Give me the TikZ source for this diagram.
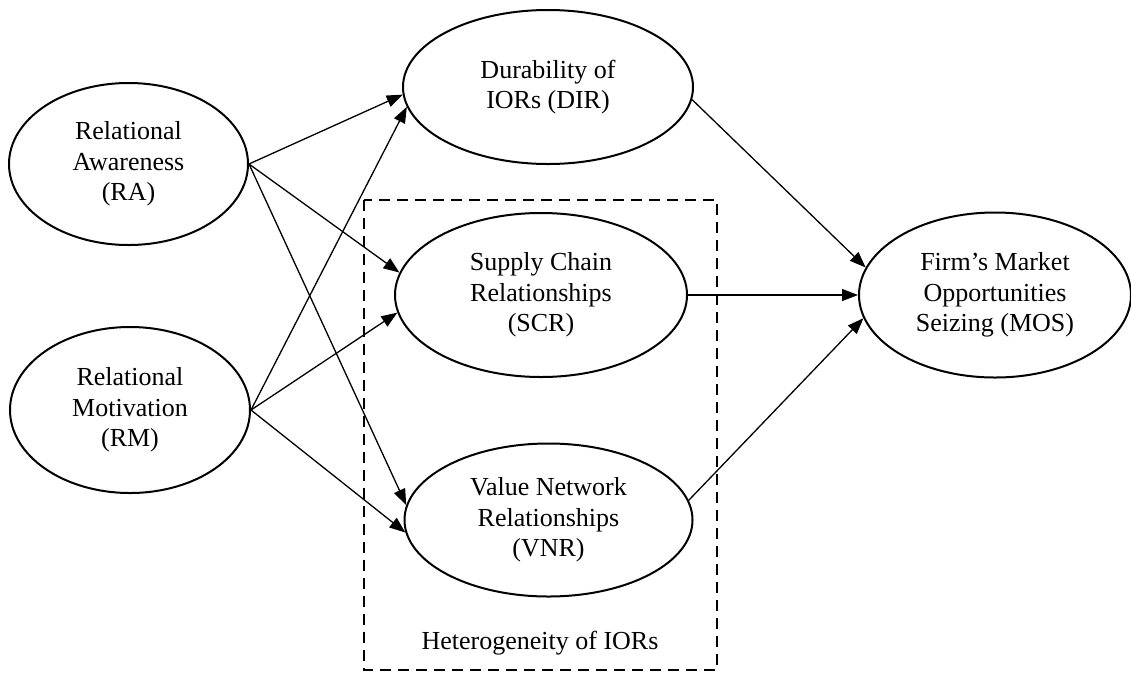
\documentclass[tikz,border=0pt]{standalone}
\usepackage{fontspec}
\setmainfont{Liberation Serif}
\usetikzlibrary{arrows.meta,shapes.geometric}
\begin{document}
\begin{tikzpicture}[x=1pt,y=-1pt,
  construct/.style={draw, ellipse, line width=2pt, inner sep=0pt, align=center,
    font=\fontsize{26}{30.5}\selectfont},
  path/.style={line width=1.3pt, -{Triangle[length=16pt,width=12pt]}},
  group/.style={draw, dashed, line width=2pt, dash pattern=on 11pt off 7pt}]
\useasboundingbox (0,0) rectangle (1131,673);

% constructs
\node[construct, minimum width=239pt, minimum height=162pt] (RA)  at (128.5,164) {Relational\\Awareness\\(RA)};
\node[construct, minimum width=240pt, minimum height=166pt] (RM)  at (130,410)   {Relational\\Motivation\\(RM)};
\node[construct, minimum width=290pt, minimum height=154pt] (DIR) at (548,87)    {Durability of\\IORs (DIR)};
\node[construct, minimum width=292pt, minimum height=164pt] (SCR) at (541,295)   {Supply Chain\\Relationships\\(SCR)};
\node[construct, minimum width=288pt, minimum height=153pt] (VNR) at (548.5,520) {Value Network\\Relationships\\(VNR)};
\node[construct, minimum width=272pt, minimum height=165pt] (MOS) at (995,295)   {Firm’s Market\\Opportunities\\Seizing (MOS)};

% heterogeneity group
\draw[group] (364,200) rectangle (717,670);
\node[font=\fontsize{26}{30.5}\selectfont] (HET) at (540,643) {Heterogeneity of IORs};

% paths
\draw[path] (RA.east) -- (DIR.183);
\draw[path] (RA.east) -- (SCR.171);
\draw[path] (RA.east) -- (VNR.174);
\draw[path] (RM.east) -- (DIR.188.5);
\draw[path] (RM.east) -- (SCR.187);
\draw[path] (RM.east) -- (VNR.185);
\draw[path] (DIR.355) -- (MOS.168);
\draw[path] (SCR.east) -- (MOS.west);
\draw[path] (VNR.8) -- (MOS.190.5);
\end{tikzpicture}
\end{document}
